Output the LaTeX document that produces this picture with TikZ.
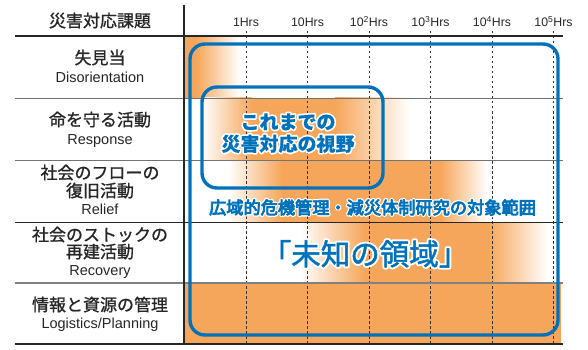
\documentclass[tikz,border=0pt]{standalone}
\usepackage{fontspec}
\setmainfont{Liberation Sans}
\newfontfamily\jp{Noto Sans CJK JP}
\definecolor{org}{RGB}{246,166,90}
\definecolor{blu}{RGB}{0,114,188}
\definecolor{txt}{RGB}{38,38,38}
% white outline behind text: stroked copy (text render mode 1), then the filled text (slightly emboldened)
\newcommand\haloed[3]{\leavevmode\rlap{\special{pdf:code q 1 Tr #1 w 1 j 1 J}\textcolor{white}{#3}\special{pdf:code Q}}\special{pdf:code q 2 Tr #2 w 1 j}#3\special{pdf:code Q}}
\newcommand\heavier[2]{\special{pdf:code q 2 Tr #1 w 1 j}#2\special{pdf:code Q}}
\begin{document}
\begin{tikzpicture}[x=1pt,y=-1pt,
  jplab/.style={font=\jp\fontsize{17}{17}\selectfont, text=txt, anchor=base, inner sep=0pt},
  enlab/.style={font=\fontsize{14.5}{14.5}\selectfont, text=txt, anchor=base, inner sep=0pt},
  ticklab/.style={font=\fontsize{12.3}{12.3}\selectfont, text=txt, anchor=base, inner sep=0pt},
  sepline/.style={line width=0.9pt, draw=black!55},
  thickline/.style={line width=2.2pt, draw=black!85},
  gridline/.style={line width=0.7pt, draw=black!80, dash pattern=on 2.5pt off 2.5pt},
  bluebox/.style={line width=3.4pt, draw=blu, rounded corners=15pt},
  bluetext/.style={anchor=base, inner sep=0pt, text=blu},
]
\useasboundingbox (0,0) rectangle (588,350);
% orange fills
\fill[org] (185,36) rectangle (196,98);
\shade[left color=org, right color=white] (196,36) rectangle (240,98);
\shade[left color=white, right color=org] (202,98) rectangle (252,160);
\fill[org] (252,98) rectangle (335,160);
\shade[left color=org, right color=white] (335,98) rectangle (410,160);
\shade[left color=white, right color=org] (228,160) rectangle (282,222);
\fill[org] (282,160) rectangle (440,222);
\shade[left color=org, right color=white] (440,160) rectangle (487,222);
\shade[left color=white, right color=org] (300,222) rectangle (365,283);
\fill[org] (365,222) rectangle (488,283);
\shade[left color=org, right color=white] (488,222) rectangle (548,283);
\fill[org] (185,283) rectangle (561,344);
% grid
\foreach \x in {246,307.5,369,430.5,492,553.5}
  \draw[gridline] (\x,31) -- (\x,344);
\draw[sepline] (15,98) -- (563,98);
\draw[sepline] (15,160) -- (563,160);
\draw[line width=0.9pt, draw=black!85] (15,222) -- (563,222);
\draw[line width=1.2pt, draw=black!50] (15,283) -- (563,283);
\draw[thickline] (15,36) -- (563,36);
\draw[thickline] (15,344) -- (563,344);
\draw[line width=2pt, draw=black!85] (184,5) -- (184,345);
% tick labels
\node[ticklab] (t0) at (246,27) {1Hrs};
\node[ticklab] (t1) at (307.5,27) {10Hrs};
\node[ticklab] (t2) at (369,27) {10\textsuperscript{2}Hrs};
\node[ticklab] (t3) at (430.5,27) {10\textsuperscript{3}Hrs};
\node[ticklab] (t4) at (492,27) {10\textsuperscript{4}Hrs};
\node[ticklab] (t5) at (553.5,27) {10\textsuperscript{5}Hrs};
% left column
\node[jplab] (h) at (100,27) {\heavier{0.18}{災害対応課題}};
\node[jplab] (r1a) at (100,64) {\heavier{0.18}{失見当}};
\node[enlab] (r1b) at (100,83) {Disorientation};
\node[jplab] (r2a) at (100,126) {\heavier{0.18}{命を守る活動}};
\node[enlab] (r2b) at (100,144) {Response};
\node[jplab] (r3a) at (100,179) {\heavier{0.18}{社会のフローの}};
\node[jplab] (r3b) at (100,197) {\heavier{0.18}{復旧活動}};
\node[enlab] (r3c) at (100,214) {Relief};
\node[jplab] (r4a) at (100,241) {\heavier{0.18}{社会のストックの}};
\node[jplab] (r4b) at (100,258) {\heavier{0.18}{再建活動}};
\node[enlab] (r4c) at (100,275) {Recovery};
\node[jplab] (r5a) at (100,311) {\heavier{0.18}{情報と資源の管理}};
\node[enlab] (r5b) at (100,328) {Logistics/Planning};
% blue boxes
\draw[bluebox] (190,44) rectangle (558,335);
\draw[bluebox] (202,87) rectangle (383,188);
% blue texts
\node[bluetext, font=\jp\bfseries\fontsize{19}{19}\selectfont] (b1) at (288,129) {\haloed{3.6}{0}{これまでの}};
\node[bluetext, font=\jp\bfseries\fontsize{19}{19}\selectfont] (b2) at (288,151) {\haloed{3.6}{0}{災害対応の視野}};
\node[bluetext, font=\jp\fontsize{17.2}{17.2}\selectfont] (b3) at (372.5,214) {\haloed{3.4}{0.8}{広域的危機管理・減災体制研究の対象範囲}};
\node[bluetext, font=\jp\fontsize{29.5}{29.5}\selectfont] (b4) at (365,265) {\haloed{4.4}{0.5}{「未知の領域」}};
\end{tikzpicture}
\end{document}
